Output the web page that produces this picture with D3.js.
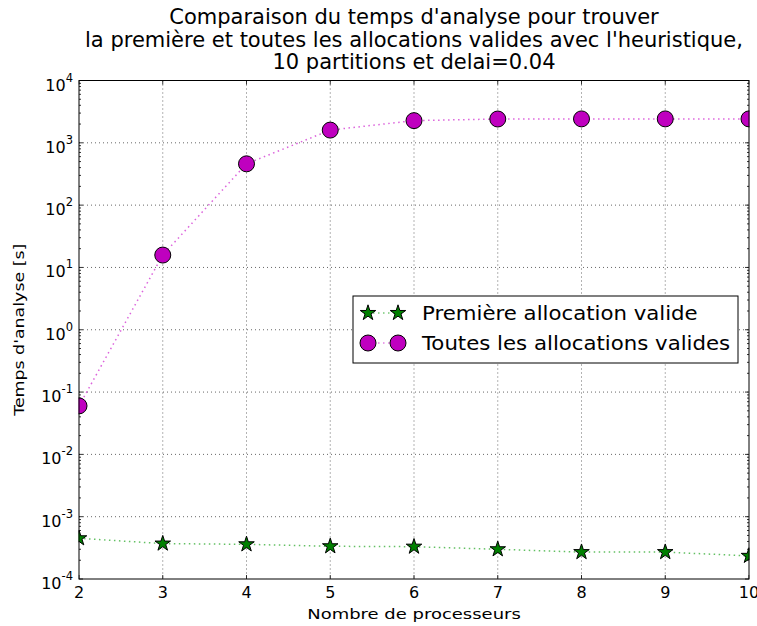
<!DOCTYPE html>
<html><head><meta charset="utf-8">
<script src="https://cdn.jsdelivr.net/npm/d3@7"></script>
<style>body{margin:0;background:#fff}svg{font-family:"DejaVu Sans",sans-serif}</style>
</head><body><svg id="c" width="757" height="626"></svg>
<script>
const processors = [2,3,4,5,6,7,8,9,10];
const firstValid = [4.5e-4,3.7e-4,3.6e-4,3.35e-4,3.3e-4,3.0e-4,2.7e-4,2.7e-4,2.35e-4];
const allValid = [0.06,15.8,460,1600,2270,2410,2420,2420,2420];
const xTicks = [2,3,4,5,6,7,8,9,10];
const yExps = [-4,-3,-2,-1,0,1,2,3,4];
const titleLines = ["Comparaison du temps d'analyse pour trouver","la première et toutes les allocations valides avec l'heuristique,","10 partitions et delai=0.04"];
const seriesNames = ["Première allocation valide","Toutes les allocations valides"];

const svg = d3.select("#c");
const L=79,R=749,T=80.5,B=579;
const x = d3.scaleLinear().domain([2,10]).range([L,R]);
const y = d3.scaleLog().domain([1e-4,1e4]).range([B,T]);

function stext(parent, px, py, str, size, sx, anchor, rot){
  const gg = parent.append("g").attr("transform",`translate(${px},${py})${rot?` rotate(${rot})`:""} scale(${sx},1)`);
  return gg.append("text").attr("text-anchor",anchor||"start").attr("font-size",size).attr("fill","#000").text(str);
}

// grid
const g = svg.append("g");
xTicks.slice(1,-1).forEach(v=>g.append("line").attr("x1",x(v)).attr("x2",x(v)).attr("y1",T).attr("y2",B)
  .attr("stroke","#000").attr("stroke-width",0.6).attr("stroke-dasharray","1,3"));
yExps.slice(1,-1).forEach(e=>g.append("line").attr("x1",L).attr("x2",R).attr("y1",y(Math.pow(10,e))).attr("y2",y(Math.pow(10,e)))
  .attr("stroke","#000").attr("stroke-width",0.6).attr("stroke-dasharray","1,3"));

// ticks (inward, all sides)
const tk = svg.append("g").attr("stroke","#000").attr("stroke-width",0.8);
xTicks.forEach(v=>{
  tk.append("line").attr("x1",x(v)).attr("x2",x(v)).attr("y1",B).attr("y2",B-4);
  tk.append("line").attr("x1",x(v)).attr("x2",x(v)).attr("y1",T).attr("y2",T+4);
});
yExps.forEach(e=>{
  const yy=y(Math.pow(10,e));
  tk.append("line").attr("x1",L).attr("x2",L+4).attr("y1",yy).attr("y2",yy);
  tk.append("line").attr("x1",R).attr("x2",R-4).attr("y1",yy).attr("y2",yy);
  if(e<4) for(let m=2;m<=9;m++){
    const ym=y(m*Math.pow(10,e));
    tk.append("line").attr("x1",L).attr("x2",L+2).attr("y1",ym).attr("y2",ym);
    tk.append("line").attr("x1",R).attr("x2",R-2).attr("y1",ym).attr("y2",ym);
  }
});

// lines
const line = d3.line().x((d,i)=>x(processors[i])).y(d=>y(d));
svg.append("path").datum(firstValid).attr("d",line).attr("fill","none").attr("stroke","#3cb03c").attr("stroke-opacity",0.8)
  .attr("stroke-width",1.5).attr("stroke-dasharray","1.5,3.5");
svg.append("path").datum(allValid).attr("d",line).attr("fill","none").attr("stroke","#d648d6").attr("stroke-opacity",0.85)
  .attr("stroke-width",1.5).attr("stroke-dasharray","1.5,3.5");

const star = d3.symbol().type(d3.symbolStar).size(75);
svg.append("g").selectAll("path").data(firstValid).join("path").attr("d",star)
  .attr("transform",(d,i)=>`translate(${x(processors[i])},${y(d)})`)
  .attr("fill","#008000").attr("stroke","#000").attr("stroke-width",1);
svg.append("g").selectAll("circle").data(allValid).join("circle")
  .attr("cx",(d,i)=>x(processors[i])).attr("cy",d=>y(d)).attr("r",8)
  .attr("fill","#bf00bf").attr("stroke","#000").attr("stroke-width",1);

// clip markers at axes edges
svg.append("rect").attr("x",R+0.5).attr("y",0).attr("width",20).attr("height",626).attr("fill","#fff");
svg.append("rect").attr("x",0).attr("y",0).attr("width",L-0.5).attr("height",626).attr("fill","#fff");

// frame
svg.append("rect").attr("x",L).attr("y",T).attr("width",R-L).attr("height",B-T).attr("fill","none").attr("stroke","#000").attr("stroke-width",1);

// tick labels
xTicks.forEach(v=>svg.append("text").attr("x",x(v)).attr("y",598).attr("text-anchor","middle").attr("font-size",16).attr("fill","#000").text(v));
yExps.forEach(e=>{
  const t=svg.append("text").attr("x",73).attr("y",y(Math.pow(10,e))+10).attr("text-anchor","end").attr("font-size",16).attr("fill","#000");
  t.append("tspan").text("10");
  t.append("tspan").attr("dy",-9).attr("font-size",11.5).text(e);
});

// axis labels
stext(svg,(L+R)/2,619,"Nombre de processeurs",14.5,1.24,"middle");
stext(svg,24,(T+B)/2,"Temps d'analyse [s]",14.5,1.2,"middle",-90);

// title
titleLines.forEach((s,i)=>svg.append("text").attr("x",(L+R)/2).attr("y",24+i*22.5).attr("text-anchor","middle").attr("font-size",21).attr("fill","#000").text(s));

// legend
const lg = svg.append("g");
lg.append("rect").attr("x",353).attr("y",296).attr("width",385).attr("height",67).attr("fill","#fff").attr("stroke","#000").attr("stroke-width",1);
[[313,"g"],[343,"m"]].forEach(([ly,k],i)=>{
  lg.append("line").attr("x1",368).attr("x2",398).attr("y1",ly).attr("y2",ly)
    .attr("stroke",k==="g"?"#3cb03c":"#d648d6").attr("stroke-width",1.5).attr("stroke-dasharray","1.5,3.5").attr("stroke-opacity",0.7);
  [368,398].forEach(mx=>{
    if(k==="g") lg.append("path").attr("d",star).attr("transform",`translate(${mx},${ly})`).attr("fill","#008000").attr("stroke","#000");
    else lg.append("circle").attr("cx",mx).attr("cy",ly).attr("r",8).attr("fill","#bf00bf").attr("stroke","#000");
  });
  stext(lg,422,ly+7,seriesNames[i],19,1.12,"start");
});
</script></body></html>
